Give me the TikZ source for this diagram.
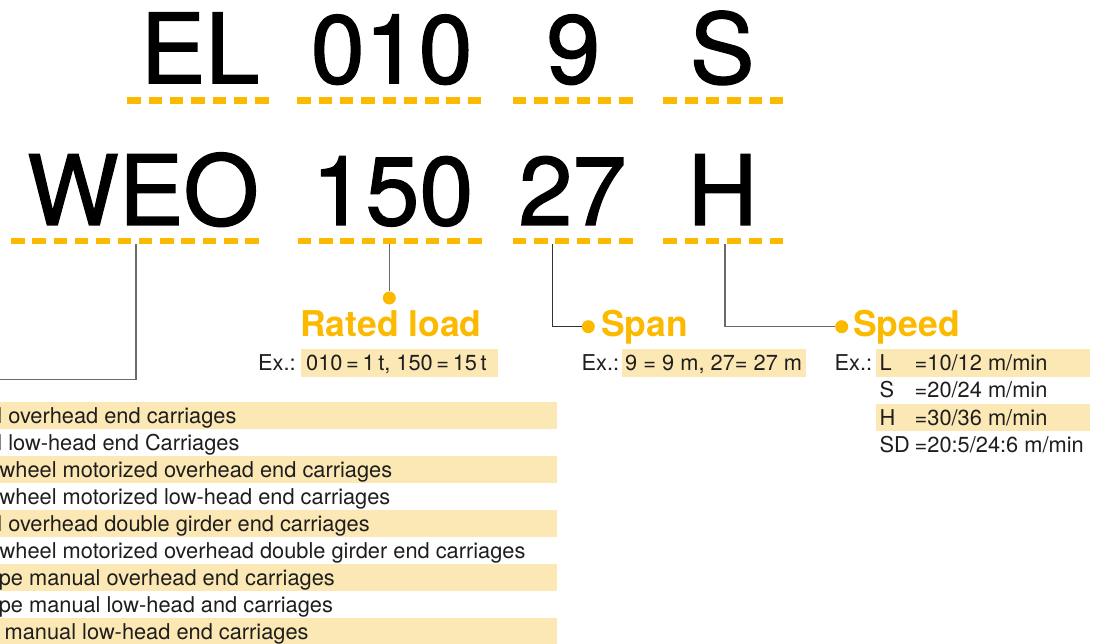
\documentclass[tikz,border=0pt]{standalone}
\usepackage{fontspec}
\setmainfont{TeX Gyre Heros}
\newfontfamily\bigcodefont[FakeBold=1.4]{TeX Gyre Heros}
\definecolor{accent}{HTML}{FBBA00}
\definecolor{hlfill}{HTML}{FCE8B4}
\definecolor{ink}{HTML}{1E1E1E}
\definecolor{connA}{HTML}{6A6A6A}
\definecolor{connB}{HTML}{333333}
\tikzset{
  big/.style={font=\bigcodefont\fontsize{97}{97}\selectfont, inner sep=0pt, anchor=base, text=black},
  head/.style={font=\bfseries\fontsize{35.5}{35.5}\selectfont, inner sep=0pt, anchor=base west, text=accent},
  item/.style={font=\fontsize{21.8}{24}\selectfont, inner sep=0pt, anchor=base west, text=ink},
  conn/.style={draw=connA, line width=1.4pt},
  connd/.style={draw=connB, line width=1.4pt},
  dotnode/.style={circle, fill=accent, minimum size=13pt, inner sep=0pt},
  hl/.style={fill=hlfill}
}
\begin{document}
\begin{tikzpicture}[x=1pt,y=-1pt]
\useasboundingbox (0,0) rectangle (1096,644);
\clip (0,0) rectangle (1096,644);

% ---- highlight bars
\foreach \k in {0,2,4,6,8} {
  \fill[hl] (-2,{402.3+27*\k}) rectangle (557,{429.3+27*\k});
}
\fill[hl] (301,349.3) rectangle (498,376.7);
\fill[hl] (622.3,349.3) rectangle (805.7,376.7);
\fill[hl] (876,349.3) rectangle (1090,376.7);
\fill[hl] (876,404) rectangle (1090,430.7);

% ---- big code letters
\node[big] (EL)  at (200,83.3) {EL};
\node[big] (c010) at (391.7,83.3) {010};
\node[big] (c9)  at (573.3,83.3) {9};
\node[big] (cS)  at (722.2,83.3) {S};
\node[big] (WEO) at (143,225) {WEO};
\node[big] (c150) at (392.5,225) {150};
\node[big] (c27) at (572.5,225) {27};
\node[big] (cH)  at (722.5,225) {H};

% ---- dashed underlines
\foreach \gx/\gn/\gy in {127.3/7/100.7, 297.3/9/100.7, 512.7/6/100.7, 663.3/6/100.7,
                         11/12/241, 297.7/9/241, 512.7/6/241, 663.3/6/241} {
  \foreach \i in {1,...,\gn} {
    \fill[accent] ({\gx+(\i-1)*21.3},{\gy-3.35}) rectangle ++(13.5,6.7);
  }
}

% ---- connector taps and ends
\coordinate (tapW) at (136,244.3);
\coordinate (tapR) at (389.3,244.3);
\coordinate (tapS) at (552.5,244.3);
\coordinate (tapV) at (725,244.3);
\coordinate (endW) at (-5,379.5);

\node[dotnode] (dotR) at (389.3,298) {};
\node[dotnode] (dotS) at (588.3,326.7) {};
\node[dotnode] (dotV) at (841.7,326.7) {};

\draw[conn] (tapW) |- (endW);
\draw[conn] (tapR) -- (dotR);
\draw[connd] (tapS) |- (dotS);
\draw[conn] (tapV) |- (dotV);

% ---- headings
\node[head, anchor=base] (hR) at (391,337) {Rated load};
\node[head] (hS) at (601,337) {Span};
\node[head] (hV) at (853,337) {Speed};

% ---- examples
\node[item] (exR) at (258,370.7) {Ex.:};
\node[item] (vR)  at (306,370.7) {010\,=\,1\,t, 150\,=\,15\,t};
\node[item] (exS) at (581.5,370.7) {Ex.:};
\node[item] (vS)  at (625,370.7) {9 = 9 m, 27= 27 m};
\node[item] (exV) at (834.5,370.7) {Ex.:};
\node[item] (sL)  at (879.5,370.7) {L};
\node[item] (sLv) at (914.5,370.7) {=10/12 m/min};
\node[item] (sS)  at (879.5,397.9) {S};
\node[item] (sSv) at (914.5,397.9) {=20/24 m/min};
\node[item] (sH)  at (879.5,425.1) {H};
\node[item] (sHv) at (914.5,425.1) {=30/36 m/min};
\node[item] (sD)  at (879.5,452.3) {SD};
\node[item] (sDv) at (914.5,452.3) {=20:5/24:6 m/min};

% ---- type list (cut at the left edge, as in the reference)
\node[item] (t1) at (-2.8,423.3) {l overhead end carriages};
\node[item] (t2) at (-2.8,450.3) {l low-head end Carriages};
\node[item] (t3) at (-0.5,477.3) {wheel motorized overhead end carriages};
\node[item] (t4) at (-0.5,504.3) {wheel motorized low-head end carriages};
\node[item] (t5) at (-2.8,531.3) {l overhead double girder end carriages};
\node[item] (t6) at (-0.5,558.3) {wheel motorized overhead double girder end carriages};
\node[item] (t7) at (-1.4,585.3) {pe manual overhead end carriages};
\node[item] (t8) at (-1.4,612.3) {pe manual low-head and carriages};
\node[item] (t9) at (4.5,639.3) {manual low-head end carriages};
\end{tikzpicture}
\end{document}
